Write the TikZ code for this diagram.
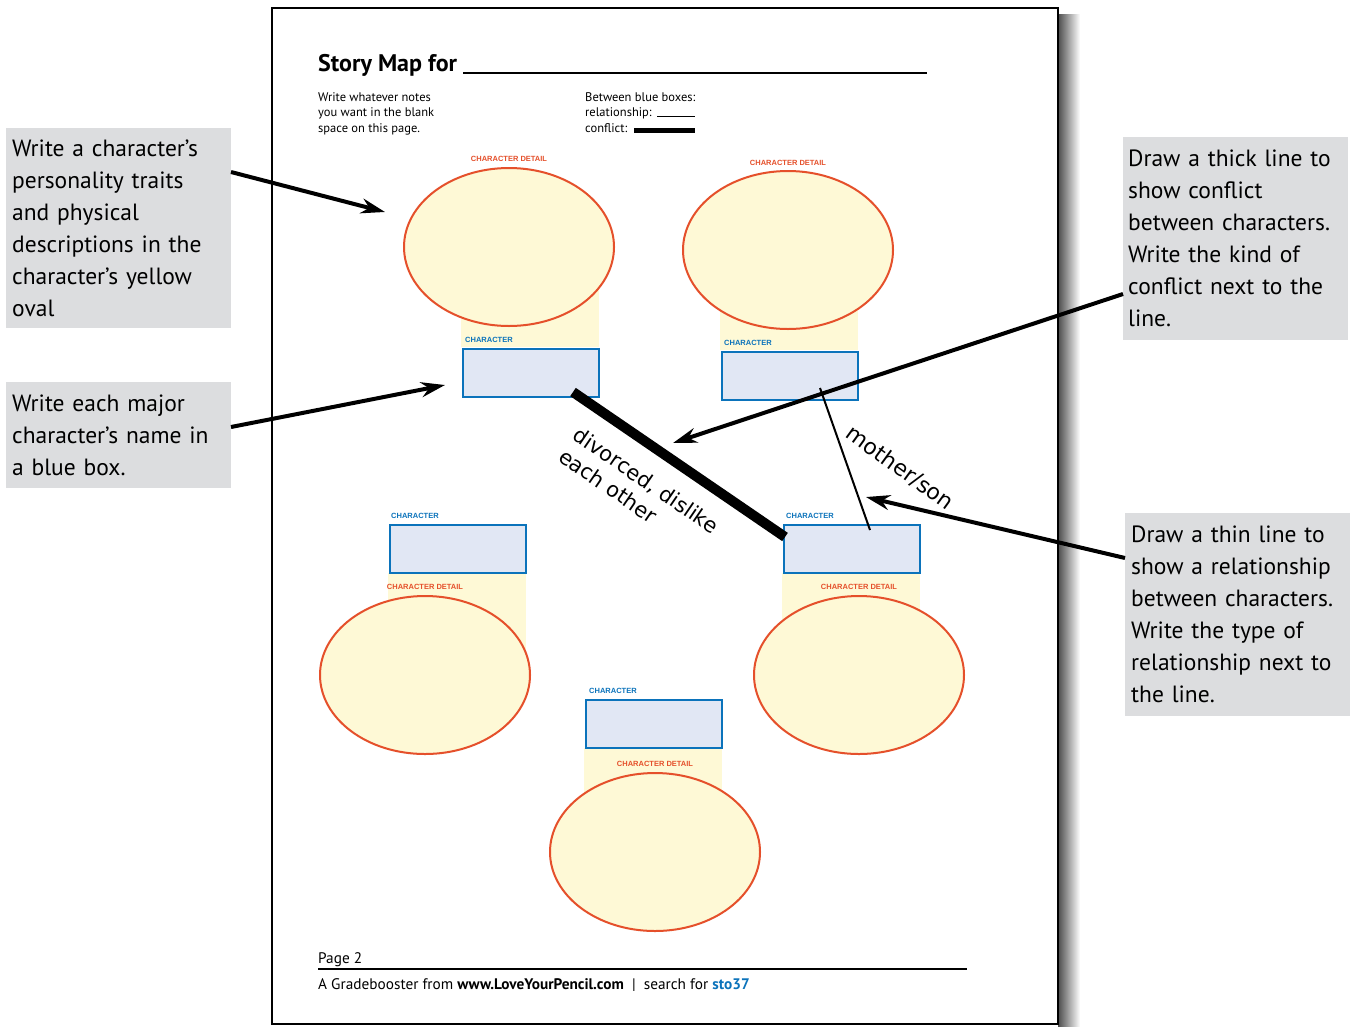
\documentclass[tikz,border=0pt]{standalone}
\usepackage{fontspec}
\setmainfont{PT Sans}
\newfontfamily\handfont{DejaVu Sans}
\newfontfamily\labfont{Liberation Sans}
\usetikzlibrary{arrows.meta,shapes.geometric}
\definecolor{detred}{HTML}{E5502B}
\definecolor{charblue}{HTML}{0B73BB}
\definecolor{boxfill}{HTML}{E1E7F4}
\definecolor{ovalfill}{HTML}{FEF9D6}
\definecolor{callgray}{HTML}{DCDDDF}
\begin{document}
\begin{tikzpicture}[x=1pt,y=-1pt,
  oval/.style={ellipse, draw=detred, line width=2pt, fill=ovalfill, minimum width=210pt, minimum height=158pt, inner sep=0pt},
  namebox/.style={draw=charblue, line width=2.2pt, fill=boxfill, minimum width=136pt, minimum height=48pt, inner sep=0pt, anchor=north west},
  clab/.style={font=\labfont\bfseries\fontsize{7.5}{8}\selectfont, text=charblue, inner sep=0pt, anchor=base west},
  dlab/.style={font=\labfont\bfseries\fontsize{7.5}{8}\selectfont, text=detred, inner sep=0pt, anchor=base},
  call/.style={fill=callgray, anchor=north west, align=left, inner xsep=6pt, inner ysep=0pt, text width=213pt, font=\fontsize{23.5}{32}\selectfont},
  pointer/.style={line width=4pt, -{Stealth[length=24pt,width=15pt]}},
  hand/.style={font=\handfont\fontsize{21}{26}\selectfont, inner sep=0pt, align=left},
  small/.style={anchor=north west, inner sep=0pt, align=left, font=\fontsize{12.5}{15.5}\selectfont}
]
\useasboundingbox (0,0) rectangle (1356,1026);
\fill[white] (0,0) rectangle (1356,1026);
% page shadow and page
\shade[left color=black!70, right color=white] (1058,14) rectangle (1080,1026);
\draw[line width=1.5pt, fill=white] (272,8) rectangle (1058,1024);

% header
\node[anchor=base west, inner sep=0pt, font=\bfseries\fontsize{24}{26}\selectfont] (title) at (318,71) {Story Map for};
\draw[line width=1.3pt] (463,73) -- (927,73);
\node[small] (notes) at (318,92) {Write whatever notes\\you want in the blank\\space on this page.};
\node[small] (legend) at (585,92) {Between blue boxes:\\relationship:\\conflict:};
\draw[line width=1pt] (657,116) -- (695,116);
\draw[line width=5pt] (634,130) -- (695,130);

% group 1
\fill[ovalfill] (461,247) rectangle (599,347);
\node[oval] (o1) at (509,247) {};
\node[dlab] (d1) at (509,161) {CHARACTER DETAIL};
\node[clab] (l1) at (465,342) {CHARACTER};
\node[namebox] (b1) at (462,348) {};
% group 2
\fill[ovalfill] (720,250) rectangle (858,350);
\node[oval] (o2) at (788,250) {};
\node[dlab] (d2) at (788,165) {CHARACTER DETAIL};
\node[clab] (l2) at (724,345) {CHARACTER};
\node[namebox] (b2) at (721,351) {};
% group 3
\fill[ovalfill] (388,573) rectangle (526,675);
\node[clab] (l3) at (391,518) {CHARACTER};
\node[namebox] (b3) at (389,524) {};
\node[dlab] (d3) at (425,589) {CHARACTER DETAIL};
\node[oval] (o3) at (425,675) {};
% group 4
\fill[ovalfill] (782,573) rectangle (920,675);
\node[clab] (l4) at (786,518) {CHARACTER};
\node[namebox] (b4) at (783,524) {};
\node[dlab] (d4) at (859,589) {CHARACTER DETAIL};
\node[oval] (o4) at (859,675) {};
% group 5
\fill[ovalfill] (584,748) rectangle (722,852);
\node[clab] (l5) at (589,693) {CHARACTER};
\node[namebox] (b5) at (585,699) {};
\node[dlab] (d5) at (655,766) {CHARACTER DETAIL};
\node[oval] (o5) at (655,852) {};

% relationship lines
\coordinate (k1) at (573,392);
\coordinate (k2) at (785,537);
\coordinate (r1) at (820,388);
\coordinate (r2) at (870,530);
\draw[line width=10pt] (k1) -- (k2);
\draw[line width=2pt] (r1) -- (r2);
\node[hand, rotate=-34.4] (conflab) at (639,491) {divorced, dislike\\each other};
\node[hand, rotate=-36, font=\handfont\fontsize{22}{26}\selectfont] (rellab) at (900,468) {mother/son};

% callouts
\node[call, minimum height=200pt] (c1) at (6,128) {Write a character’s\\personality traits\\and physical\\descriptions in the\\character’s yellow\\oval};
\node[call, minimum height=106pt] (c2) at (6,382) {Write each major\\character’s name in\\a blue box.};
\node[call, minimum height=203pt, inner xsep=5pt, text width=215pt] (c3) at (1123,137) {Draw a thick line to\\show conflict\\between characters.\\Write the kind of\\conflict next to the\\line.};
\node[call, minimum height=203pt] (c4) at (1125,513) {Draw a thin line to\\show a relationship\\between characters.\\Write the type of\\relationship next to\\the line.};

\coordinate (s1) at (231,172);
\coordinate (t1) at (385,212);
\coordinate (s2) at (231,427);
\coordinate (t2) at (445,385);
\coordinate (s3) at (1123,294);
\coordinate (t3) at (673,443);
\coordinate (s4) at (1125,558);
\coordinate (t4) at (866,497);
\draw[pointer] (s1) -- (t1);
\draw[pointer] (s2) -- (t2);
\draw[pointer] (s3) -- (t3);
\draw[pointer] (s4) -- (t4);

% footer
\node[anchor=base west, inner sep=0pt, font=\fontsize{15.3}{17}\selectfont] (pg) at (318,963) {Page 2};
\draw[line width=1.3pt] (318,969) -- (967,969);
\node[anchor=base west, inner sep=0pt, font=\fontsize{15.3}{17}\selectfont] (foot) at (318,989) {A Gradebooster from \textbf{www.LoveYourPencil.com}\ \ |\ \ search for \textcolor{charblue}{\textbf{sto37}}};
\end{tikzpicture}
\end{document}
